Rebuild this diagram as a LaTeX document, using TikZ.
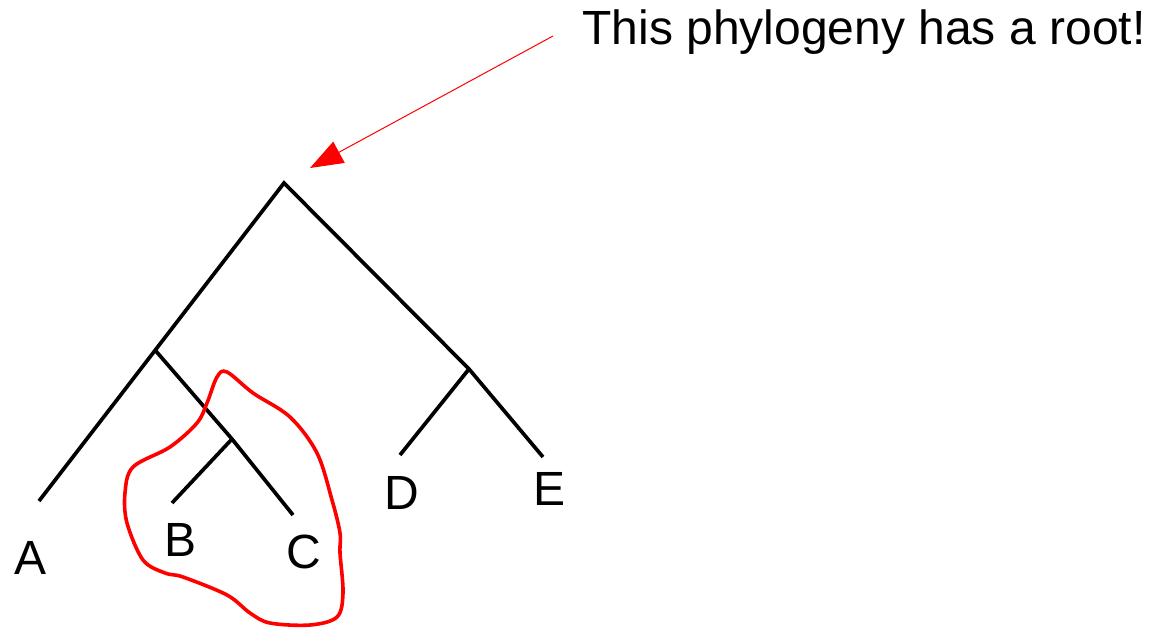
\documentclass[tikz,border=0pt]{standalone}
\usepackage{fontspec}
\setmainfont{Liberation Sans}
\usetikzlibrary{arrows.meta}
\begin{document}
\begin{tikzpicture}[x=1pt,y=-1pt,
  branch/.style={line width=3.7pt,black},
  lbl/.style={font=\fontsize{48}{56}\selectfont,inner sep=0pt},
  loop/.style={red,line width=3.6pt},
  pointer/.style={red,line width=1pt,-{Triangle[length=33pt,width=24pt]}}]
\useasboundingbox (0,0) rectangle (1154,627);
\coordinate (root) at (284,183);
\coordinate (ab) at (155,350);
\coordinate (bc) at (232,439);
\coordinate (de) at (469,369);
\coordinate (a) at (39,501);
\coordinate (b) at (172,503);
\coordinate (c) at (293,515);
\coordinate (d) at (400,455);
\coordinate (e) at (543,457);
\coordinate (start) at (553,36);
\coordinate (tip) at (310,168);
\draw[branch] (a) -- (root) -- (de) -- (e);
\draw[branch] (ab) -- (bc) -- (c);
\draw[branch] (bc) -- (b);
\draw[branch] (de) -- (d);
\node[lbl] (la) at (31,558) {A};
\node[lbl] (lb) at (181,540) {B};
\node[lbl] (lc) at (304,552) {C};
\node[lbl] (ld) at (402,493) {D};
\node[lbl] (le) at (550,489) {E};
\node[lbl] (title) at (864,32) {This phylogeny has a root!};
\draw[pointer] (start) -- (tip);
\draw[loop] plot[smooth cycle,tension=0.55] coordinates {
 (227,372) (253,393) (290,417) (317,453) (332,500) (340,533) (340,553)
 (343,593) (337,617) (310,625) (270,623) (250,613) (227,595) (183,577)
 (165,573) (143,560) (127,523) (125,493) (133,467) (170,447) (197,423)
 (207,403) (217,377)};
\end{tikzpicture}
\end{document}
